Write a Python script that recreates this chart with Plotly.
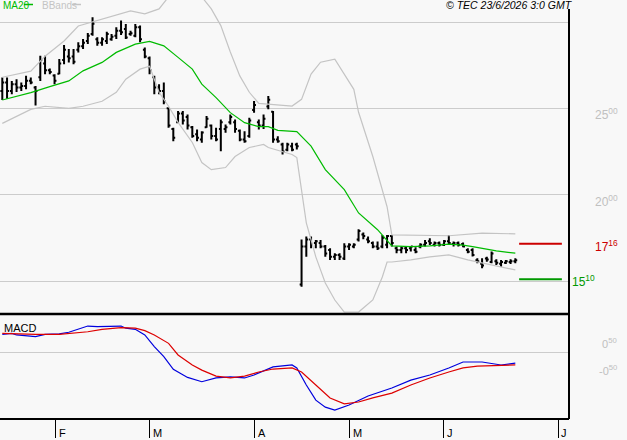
import plotly.graph_objects as go

# ---------------- data ----------------
month_labels = ["F", "M", "A", "M", "J", "J"]
month_ticks = [11.2, 31.0, 53.1, 73.1, 92.9, 117.0]

bar_high = [2678, 2678, 2659, 2669, 2649, 2688, 2678, 2630, 2804, 2804,
            2731, 2698, 2785, 2867, 2843, 2843, 2882, 2901, 2936, 3027,
            2911, 2911, 2944, 2930, 2969, 3008, 2989, 2950, 2989, 2980,
            2853, 2800, 2688, 2640, 2649, 2504, 2388, 2485, 2485, 2465,
            2397, 2378, 2368, 2455, 2407, 2387, 2436, 2407, 2465, 2436,
            2378, 2368, 2445, 2543, 2436, 2465, 2572, 2485, 2339, 2300,
            2300, 2300, 2300, 1740, 1758, 1758, 1738, 1738, 1709, 1690,
            1661, 1661, 1719, 1719, 1719, 1800, 1781, 1758, 1729, 1729,
            1767, 1767, 1767, 1700, 1700, 1700, 1703, 1696, 1719, 1738,
            1748, 1729, 1729, 1738, 1767, 1729, 1729, 1723, 1690, 1690,
            1632, 1632, 1641, 1671, 1626, 1622, 1622, 1626, 1632]
bar_low = [2548, 2556, 2581, 2595, 2601, 2610, 2640, 2517, 2659, 2698,
           2698, 2640, 2698, 2756, 2766, 2756, 2824, 2843, 2872, 2921,
           2863, 2863, 2872, 2892, 2901, 2925, 2901, 2921, 2911, 2882,
           2790, 2698, 2582, 2582, 2523, 2388, 2310, 2417, 2407, 2378,
           2330, 2310, 2300, 2387, 2320, 2310, 2251, 2358, 2407, 2358,
           2310, 2300, 2329, 2475, 2378, 2380, 2494, 2300, 2300, 2233,
           2252, 2252, 2262, 1467, 1641, 1690, 1690, 1690, 1641, 1622,
           1622, 1622, 1622, 1680, 1690, 1729, 1742, 1719, 1690, 1680,
           1690, 1690, 1700, 1661, 1661, 1661, 1671, 1661, 1690, 1700,
           1709, 1700, 1700, 1703, 1709, 1700, 1700, 1696, 1661, 1642,
           1603, 1574, 1612, 1603, 1593, 1583, 1599, 1599, 1603]
bar_open = [2600, 2650, 2600, 2640, 2620, 2630, 2660, 2620, 2680, 2760,
            2720, 2690, 2700, 2780, 2800, 2800, 2840, 2860, 2890, 2930,
            2900, 2880, 2890, 2900, 2920, 2950, 2960, 2930, 2920, 2970,
            2840, 2790, 2680, 2620, 2600, 2500, 2380, 2420, 2470, 2450,
            2390, 2350, 2320, 2390, 2400, 2340, 2380, 2380, 2420, 2420,
            2370, 2320, 2340, 2490, 2420, 2400, 2510, 2480, 2320, 2290,
            2260, 2280, 2290, 1480, 1700, 1740, 1720, 1720, 1700, 1680,
            1640, 1650, 1630, 1700, 1700, 1740, 1770, 1740, 1720, 1700,
            1700, 1710, 1760, 1690, 1680, 1690, 1690, 1680, 1700, 1710,
            1730, 1710, 1720, 1710, 1730, 1715, 1720, 1715, 1680, 1680,
            1620, 1600, 1630, 1610, 1615, 1600, 1605, 1610, 1615]
bar_close = [2650, 2600, 2640, 2620, 2630, 2660, 2650, 2600, 2780, 2720,
             2710, 2660, 2760, 2840, 2790, 2770, 2860, 2880, 2920, 2990,
             2880, 2900, 2930, 2915, 2950, 2940, 2910, 2935, 2970, 2900,
             2800, 2720, 2620, 2600, 2540, 2400, 2330, 2470, 2430, 2400,
             2340, 2330, 2360, 2440, 2340, 2320, 2420, 2390, 2450, 2380,
             2320, 2310, 2430, 2520, 2400, 2440, 2550, 2320, 2310, 2250,
             2290, 2260, 2280, 1700, 1740, 1710, 1730, 1700, 1660, 1640,
             1650, 1640, 1700, 1710, 1710, 1790, 1760, 1730, 1700, 1690,
             1750, 1760, 1720, 1680, 1690, 1680, 1700, 1670, 1710, 1720,
             1720, 1720, 1710, 1730, 1720, 1720, 1710, 1700, 1670, 1650,
             1615, 1590, 1625, 1660, 1605, 1610, 1615, 1615, 1620]

ma20_x = [0, 6, 10, 14, 17, 21, 24, 28, 31, 34, 37, 40, 42, 45, 48, 51, 54, 56,
          58, 62, 65, 68, 72, 75, 79, 82, 86, 90, 94, 97, 99, 101, 104, 108]
ma20_y = [2548, 2591, 2626, 2659, 2717, 2766, 2824, 2872, 2888, 2862, 2795,
          2727, 2640, 2562, 2475, 2417, 2394, 2394, 2372, 2365, 2281, 2145,
          2029, 1894, 1797, 1703, 1699, 1703, 1713, 1708, 1699, 1690, 1674, 1661]

bb_up_x = [0, 6, 9, 13, 16, 23, 27, 30, 33, 36, 41, 44, 46, 48, 50, 52, 54,
           61, 63, 65, 67, 70, 74, 75, 78, 81, 82, 94, 101, 108]
bb_up_y = [2680, 2715, 2802, 2890, 2977, 3035, 3064, 3047, 3076, 3180, 3180,
           3076, 2979, 2826, 2688, 2593, 2529, 2513, 2552, 2698, 2767, 2785,
           2610, 2477, 2221, 1930, 1767, 1762, 1777, 1773]

bb_lo_x = [0, 6, 9, 14, 17, 21, 24, 26, 29, 31, 33, 35, 37, 40, 42, 44, 47,
           49, 52, 55, 56, 61, 62, 63, 64, 66, 68, 70, 72, 75, 78, 80, 81, 82,
           86, 90, 94, 98, 101, 108]
bb_lo_y = [2413, 2494, 2512, 2500, 2512, 2541, 2593, 2669, 2727, 2744, 2593,
           2512, 2419, 2302, 2186, 2145, 2157, 2221, 2273, 2291, 2273, 2233,
           2215, 2029, 1837, 1640, 1488, 1390, 1320, 1320, 1390, 1523, 1610,
           1610, 1622, 1640, 1651, 1622, 1605, 1564]

macd_x = [0, 2, 3, 6, 7, 9, 12, 14, 16, 18, 20, 23, 25, 26, 28, 30, 32, 34,
          36, 39, 42, 45, 48, 51, 53, 57, 61, 62, 64, 66, 68, 70, 73, 77, 82,
          86, 90, 94, 97, 101, 105, 108]
macd_y = [65, 69, 63, 59, 57, 65, 67, 73, 84, 96, 94, 94, 96, 88, 84, 63, 20,
          -17, -64, -94, -110, -96, -92, -96, -85, -55, -48, -59, -122, -178,
          -204, -215, -196, -163, -133, -104, -85, -59, -37, -37, -48, -41]

signal_x = [0, 7, 12, 15, 18, 21, 25, 28, 30, 32, 35, 37, 40, 42, 45, 48, 51,
            54, 57, 61, 63, 66, 69, 72, 75, 78, 82, 86, 90, 94, 97, 100, 105, 108]
signal_y = [69, 65, 65, 69, 75, 84, 90, 88, 79, 63, 32, -11, -48, -67, -89,
            -96, -89, -74, -63, -59, -74, -122, -170, -192, -185, -170, -152,
            -122, -96, -74, -59, -52, -48, -48]

levels = [1716, 1510]
level_labels = ["17<sup>16</sup>", "15<sup>10</sup>"]
level_colors = ["#cc0000", "#009900"]

price_grid = [1500, 2000, 2500, 3000]
price_label_vals = [2500, 2000]
price_label_text = ["25<sup>00</sup>", "20<sup>00</sup>"]

macd_label_vals = [50, -50]
macd_label_text = ["0<sup>50</sup>", "-0<sup>50</sup>"]

# ---------------- layout helpers ----------------
W, H = 627, 440
PW, PH = 569, 419
SPLIT = 314
FONT = "Liberation Sans Narrow, Arial Narrow, Liberation Sans, Arial, sans-serif"
BG = "#f8f8f8"
GRID = "#cccccc"


def pxx(x):
    return x / PW


def pxy(y):
    return (PH - y) / PH


idx = list(range(len(bar_open)))
xr = [-0.484, 119.3]

fig = go.Figure()
fig.add_trace(go.Scatter(x=bb_up_x, y=bb_up_y, mode="lines",
                         line=dict(color="#c4c4c4", width=1.2), hoverinfo="skip",
                         xaxis="x", yaxis="y"))
fig.add_trace(go.Scatter(x=bb_lo_x, y=bb_lo_y, mode="lines",
                         line=dict(color="#c4c4c4", width=1.2), hoverinfo="skip",
                         xaxis="x", yaxis="y"))
fig.add_trace(go.Scatter(x=ma20_x, y=ma20_y, mode="lines",
                         line=dict(color="#00bb00", width=1.2), hoverinfo="skip",
                         xaxis="x", yaxis="y"))
fig.add_trace(go.Ohlc(x=idx, open=bar_open, high=bar_high, low=bar_low, close=bar_close,
                      increasing=dict(line=dict(color="black", width=2)),
                      decreasing=dict(line=dict(color="black", width=2)),
                      tickwidth=0.4, hoverinfo="skip", xaxis="x", yaxis="y"))
fig.add_trace(go.Scatter(x=macd_x, y=macd_y, mode="lines",
                         line=dict(color="#0000dd", width=1.2), hoverinfo="skip",
                         xaxis="x2", yaxis="y2"))
fig.add_trace(go.Scatter(x=signal_x, y=signal_y, mode="lines",
                         line=dict(color="#dd0000", width=1.2), hoverinfo="skip",
                         xaxis="x2", yaxis="y2"))

top_dom = [(PH - SPLIT) / PH, 1]
bot_dom = [0, (PH - SPLIT) / PH]

fig.update_layout(
    width=W, height=H,
    margin=dict(l=0, r=W - PW, t=0, b=H - PH, pad=0),
    paper_bgcolor=BG, plot_bgcolor=BG,
    showlegend=False,
    xaxis=dict(domain=[0, 1], range=xr, anchor="y", showgrid=False, zeroline=False,
               showticklabels=False, ticks="", rangeslider=dict(visible=False),
               fixedrange=True),
    xaxis2=dict(domain=[0, 1], range=xr, anchor="y2", showgrid=False, zeroline=False,
                showticklabels=False, tickmode="array", tickvals=month_ticks,
                ticks="outside", ticklen=18, tickwidth=1, tickcolor="black",
                showline=False),
    yaxis=dict(domain=top_dom, range=[1308.9, 3127.4], anchor="x", tickmode="array",
               tickvals=price_grid, showticklabels=False, showgrid=True,
               gridcolor=GRID, gridwidth=1, zeroline=False, ticks=""),
    yaxis2=dict(domain=bot_dom, range=[-247.9, 140.6], anchor="x2", tickmode="array",
                tickvals=[0], showticklabels=False, showgrid=True, gridcolor=GRID,
                gridwidth=1, zeroline=False, ticks=""),
)

shapes = []
# panel separators / frame
shapes.append(dict(type="line", xref="paper", yref="paper", x0=0, x1=1,
                   y0=pxy(SPLIT), y1=pxy(SPLIT), line=dict(color="black", width=2.5)))
shapes.append(dict(type="line", xref="paper", yref="paper", x0=0, x1=1,
                   y0=0, y1=0, line=dict(color="black", width=2)))
shapes.append(dict(type="line", xref="paper", yref="paper", x0=1, x1=1,
                   y0=pxy(9), y1=0, line=dict(color="black", width=2)))
# support / resistance levels
for lv, col in zip(levels, level_colors):
    shapes.append(dict(type="line", xref="x", yref="y", x0=108.8, x1=117.8,
                       y0=lv, y1=lv, line=dict(color=col, width=2)))
# legend dashes
shapes.append(dict(type="line", xref="paper", yref="paper", x0=pxx(24), x1=pxx(33),
                   y0=pxy(4.5), y1=pxy(4.5), line=dict(color="#00bb00", width=1.5)))
shapes.append(dict(type="line", xref="paper", yref="paper", x0=pxx(72), x1=pxx(81),
                   y0=pxy(4.5), y1=pxy(4.5), line=dict(color="#c4c4c4", width=1.5)))
fig.update_layout(shapes=shapes)

ann = []
ann.append(dict(xref="paper", yref="paper", x=pxx(1), y=pxy(5), xanchor="left",
                yanchor="middle", text="MA20", showarrow=False,
                font=dict(family=FONT, size=10, color="#00bb00")))
ann.append(dict(xref="paper", yref="paper", x=pxx(40), y=pxy(5), xanchor="left",
                yanchor="middle", text="BBands", showarrow=False,
                font=dict(family=FONT, size=10, color="#c4c4c4")))
ann.append(dict(xref="paper", yref="paper", x=pxx(575), y=pxy(5), xanchor="right",
                yanchor="middle", text="<i>© TEC 23/6/2026 3:0 GMT</i>", showarrow=False,
                font=dict(family=FONT, size=10.5, color="black")))
ann.append(dict(xref="paper", yref="paper", x=pxx(2), y=pxy(327.5), xanchor="left",
                yanchor="middle", text="MACD", showarrow=False,
                font=dict(family=FONT, size=11, color="black")))
for v, t in zip(price_label_vals, price_label_text):
    ann.append(dict(xref="paper", yref="y", x=pxx(593), y=v, xanchor="left",
                    yanchor="middle", yshift=-6, text=t, showarrow=False,
                    font=dict(family=FONT, size=12, color="#c0c0c0")))
for i, (lv, t, col) in enumerate(zip(levels, level_labels, level_colors)):
    xl = 593 if i == 0 else 570
    ann.append(dict(xref="paper", yref="y", x=pxx(xl), y=lv, xanchor="left",
                    yanchor="middle", yshift=-2, text=t, showarrow=False,
                    font=dict(family=FONT, size=12, color=col)))
for v, t in zip(macd_label_vals, macd_label_text):
    ann.append(dict(xref="paper", yref="y2", x=pxx(619), y=v, xanchor="right",
                    yanchor="middle", yshift=-4.5, text=t, showarrow=False,
                    font=dict(family=FONT, size=11, color="#c0c0c0")))
for mt, ml in zip(month_ticks, month_labels):
    ann.append(dict(xref="x2", yref="paper", x=mt, y=pxy(433), xanchor="left",
                    yanchor="middle", xshift=1, text=ml, showarrow=False,
                    font=dict(family=FONT, size=11, color="black")))
fig.update_layout(annotations=ann)

fig.write_html("out.html", config={"displayModeBar": False})
